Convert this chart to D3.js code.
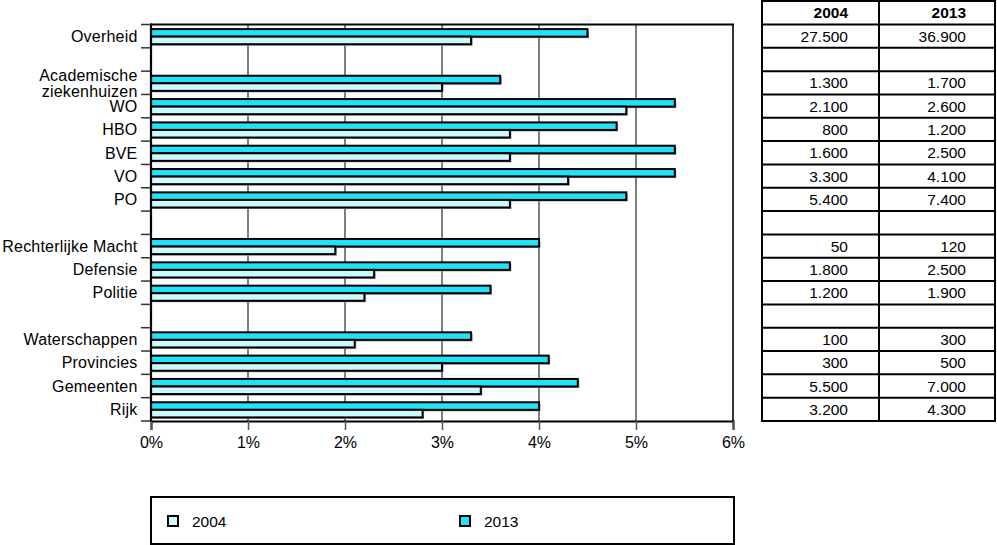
<!DOCTYPE html>
<html>
<head>
<meta charset="utf-8">
<script src="https://cdn.jsdelivr.net/npm/d3@7"></script>
<style>
  html, body { margin: 0; padding: 0; background: #fff; }
  svg { display: block; font-family: "Liberation Sans", Arial, sans-serif; }
</style>
</head>
<body>
<svg id="chart" width="997" height="545"></svg>
<script>
// ---------------- data ----------------
const categories = ["Overheid", "", "Academische\nziekenhuizen", "WO", "HBO", "BVE", "VO", "PO", "",
  "Rechterlijke Macht", "Defensie", "Politie", "", "Waterschappen", "Provincies", "Gemeenten", "Rijk"];
const pct2004 = [3.3, null, 3.0, 4.9, 3.7, 3.7, 4.3, 3.7, null, 1.9, 2.3, 2.2, null, 2.1, 3.0, 3.4, 2.8];
const pct2013 = [4.5, null, 3.6, 5.4, 4.8, 5.4, 5.4, 4.9, null, 4.0, 3.7, 3.5, null, 3.3, 4.1, 4.4, 4.0];
const abs2004 = ["27.500", "", "1.300", "2.100", "800", "1.600", "3.300", "5.400", "",
  "50", "1.800", "1.200", "", "100", "300", "5.500", "3.200"];
const abs2013 = ["36.900", "", "1.700", "2.600", "1.200", "2.500", "4.100", "7.400", "",
  "120", "2.500", "1.900", "", "300", "500", "7.000", "4.300"];
const xTicks = [0, 1, 2, 3, 4, 5, 6];
const seriesNames = ["2004", "2013"];
const seriesColors = ["#ccfbff", "#22e2f8"];

// ---------------- layout ----------------
const svg = d3.select("#chart");
const pL = 151, pR = 733, pT = 24.5, pB = 421;
const fontSize = "15.5px";

const x = d3.scaleLinear().domain([0, 6]).range([pL, pR]);
const y = d3.scaleBand().domain(d3.range(categories.length)).range([pT, pB]).padding(0);
const sub = d3.scaleBand().domain(["2013", "2004"]).range([4.6, y.bandwidth() - 3.6]).padding(0);

// grid lines
svg.append("g").selectAll("line").data(xTicks.filter(t => t > 0 && t < 6)).join("line")
  .attr("x1", d => x(d)).attr("x2", d => x(d))
  .attr("y1", pT).attr("y2", pB)
  .attr("stroke", "#555").attr("stroke-width", 1.5);
// right border
svg.append("line").attr("x1", x(6)).attr("x2", x(6)).attr("y1", pT).attr("y2", pB)
  .attr("stroke", "#333").attr("stroke-width", 2);
// top border
svg.append("line").attr("x1", pL).attr("x2", x(6) + 1).attr("y1", pT).attr("y2", pT)
  .attr("stroke", "#000").attr("stroke-width", 2);

// bars
const rows = categories.map((c, i) => ({ i, v2004: pct2004[i], v2013: pct2013[i] }));
const barG = svg.append("g");
rows.forEach(r => {
  [["2013", r.v2013, seriesColors[1]], ["2004", r.v2004, seriesColors[0]]].forEach(([s, v, col]) => {
    if (v == null) return;
    const yy = y(r.i) + sub(s);
    const h = sub.bandwidth();
    barG.append("rect")
      .attr("x", x(0) + 1.5).attr("y", yy + 1.5)
      .attr("width", x(v) - x(0)).attr("height", h)
      .attr("fill", "#999");
    barG.append("rect")
      .attr("x", x(0)).attr("y", yy)
      .attr("width", x(v) - x(0)).attr("height", h)
      .attr("fill", col).attr("stroke", "#000").attr("stroke-width", 2);
  });
});

// y axis ticks (slot boundaries)
const bounds = d3.range(categories.length + 1).map(i => i < categories.length ? y(i) : pB);
svg.append("g").selectAll("line").data(bounds).join("line")
  .attr("x1", pL - 10).attr("x2", pL)
  .attr("y1", d => d).attr("y2", d => d)
  .attr("stroke", "#333").attr("stroke-width", 1.5);
// y axis line
svg.append("line").attr("x1", pL).attr("x2", pL).attr("y1", pT - 1).attr("y2", pB + 1)
  .attr("stroke", "#000").attr("stroke-width", 2.2);

// y labels
const labG = svg.append("g").attr("font-size", "16px").attr("letter-spacing", "0.2px")
  .attr("fill", "#000").attr("text-anchor", "end");
categories.forEach((c, i) => {
  if (!c) return;
  const lines = c.split("\n");
  const cy = y(i) + y.bandwidth() / 2;
  const lh = 16;
  lines.forEach((ln, k) => {
    labG.append("text")
      .attr("x", 137.5)
      .attr("y", cy + (k - (lines.length - 1) / 2) * lh)
      .attr("dy", "0.36em")
      .text(ln);
  });
});

// x axis
const xAxis = d3.axisBottom(x).tickValues(xTicks).tickFormat(d => d + "%").tickSize(9).tickPadding(7);
const xg = svg.append("g").attr("transform", `translate(0,${pB})`).call(xAxis);
xg.select(".domain").attr("stroke", "#000").attr("stroke-width", 2);
xg.selectAll(".tick line").attr("stroke", "#555").attr("stroke-width", 1.5);
xg.selectAll(".tick text").attr("font-size", "16px").attr("fill", "#000")
  .attr("font-family", "Liberation Sans, Arial, sans-serif");

// ---------------- table ----------------
const tLeft = 762, tMid = 879, tRight = 995, tTop = 1;
const tg = svg.append("g");
const rowLines = [tTop].concat(bounds);
tg.selectAll("line.h").data(rowLines).join("line").attr("class", "h")
  .attr("x1", tLeft).attr("x2", tRight)
  .attr("y1", d => d).attr("y2", d => d)
  .attr("stroke", "#000").attr("stroke-width", 2);
[tLeft, tMid, tRight].forEach(xx => {
  tg.append("line").attr("x1", xx).attr("x2", xx).attr("y1", tTop - 1).attr("y2", pB + 1)
    .attr("stroke", "#000").attr("stroke-width", 2);
});
const col1 = 848, col2 = 966;
tg.append("text").attr("x", col1).attr("y", (tTop + pT) / 2).attr("dy", "0.36em")
  .attr("text-anchor", "end").attr("font-weight", "bold").attr("font-size", fontSize).text(seriesNames[0]);
tg.append("text").attr("x", col2).attr("y", (tTop + pT) / 2).attr("dy", "0.36em")
  .attr("text-anchor", "end").attr("font-weight", "bold").attr("font-size", fontSize).text(seriesNames[1]);
categories.forEach((c, i) => {
  const cy = y(i) + y.bandwidth() / 2;
  if (abs2004[i]) tg.append("text").attr("x", col1).attr("y", cy).attr("dy", "0.36em")
    .attr("text-anchor", "end").attr("font-size", fontSize).text(abs2004[i]);
  if (abs2013[i]) tg.append("text").attr("x", col2).attr("y", cy).attr("dy", "0.36em")
    .attr("text-anchor", "end").attr("font-size", fontSize).text(abs2013[i]);
});

// ---------------- legend ----------------
const lg = svg.append("g");
lg.append("rect").attr("x", 151).attr("y", 497).attr("width", 583).attr("height", 47)
  .attr("fill", "#fff").attr("stroke", "#000").attr("stroke-width", 2);
const legendX = [168, 460];
seriesNames.forEach((s, k) => {
  lg.append("rect").attr("x", legendX[k]).attr("y", 516).attr("width", 10).attr("height", 10)
    .attr("fill", seriesColors[k]).attr("stroke", "#000").attr("stroke-width", 2);
  lg.append("text").attr("x", legendX[k] + 24).attr("y", 521).attr("dy", "0.36em")
    .attr("font-size", fontSize).text(s);
});
</script>
</body>
</html>
